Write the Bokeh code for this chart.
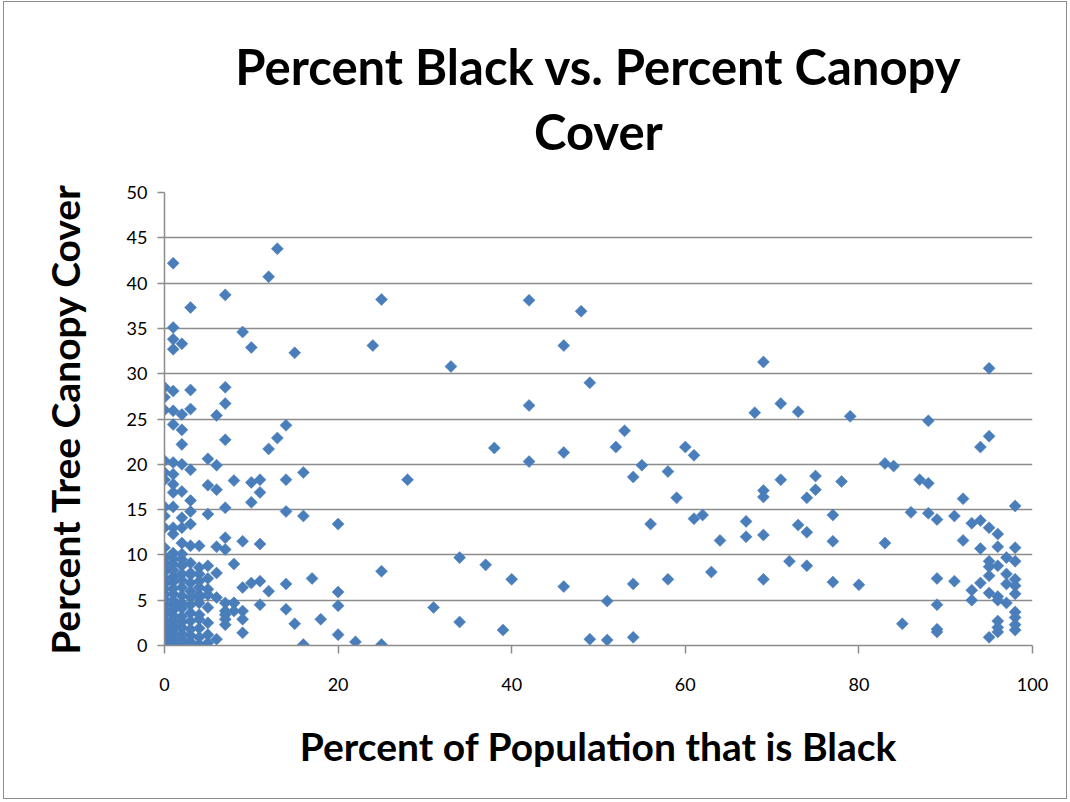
import math
from bokeh.plotting import figure
from bokeh.models import FixedTicker, Range1d, ColumnDataSource
from bokeh.embed import file_html
from bokeh.resources import INLINE

# Census tracts: share of residents who are Black vs. tree canopy share (%)
pct_black = [
    # low-share tracts with higher canopy
    1, 13, 12, 7, 3, 1, 1, 2, 1, 9, 10, 15,
    0, 0, 1, 3, 7, 7, 0, 1, 2, 3, 6,
    1, 2, 2, 7, 14, 13, 12,
    0, 1, 2, 3, 5, 6, 0, 0, 1, 1, 1, 2, 5, 6, 8, 10, 11, 11, 10, 14, 16,
    3, 0, 1, 0, 3, 5, 7, 14, 16, 20, 2,
    0, 1, 1, 2, 3, 2, 3, 4, 0, 6, 7, 7, 9, 11, 1, 2,
    # low-share tracts with low canopy
    5, 8, 6, 4, 3, 9, 10, 11, 12, 14, 17, 20, 20, 11, 14, 15, 18, 20, 16, 22, 25,
    9, 9, 9, 8, 7, 7, 6, 5, 5, 6, 4, 4, 4, 5, 4, 8, 7, 7, 7, 8,
    0, 0, 0, 0, 0, 0, 0, 0, 0, 0, 0, 0, 0, 0, 0, 0, 0, 0, 0,
    1, 1, 1, 1, 1, 1, 1, 1, 1, 1, 1, 1, 1, 1, 1, 1, 1,
    2, 2, 2, 2, 2, 2, 2, 2, 2, 2, 2, 2, 2, 2,
    3, 3, 3, 3, 3, 3, 3, 3, 3, 3, 3,
    4, 4, 4, 4, 4, 4, 4,
    5, 5, 5, 5,
    # mid-range tracts
    25, 42, 48, 24, 33, 46, 49, 42, 53, 52, 38, 46, 42, 55, 54, 58, 59, 28, 56,
    34, 37, 25, 40, 46, 54, 58, 31, 51, 34, 39, 49, 51, 54,
    # majority-Black tracts
    69, 95, 71, 68, 73, 79, 88, 95, 94, 60, 61, 83, 84, 71, 75, 78, 87, 88, 75,
    69, 69, 74, 92, 98, 61, 62, 77, 86, 88, 89, 91, 93, 94, 95, 96, 92, 94, 96,
    98, 83, 77, 67, 67, 69, 64, 73, 74, 72, 74, 63, 69, 77, 80, 89, 91, 93, 94,
    95, 95, 95, 96, 97, 98, 97, 97, 98, 98, 98, 95, 96, 96, 97, 93, 89, 85, 89,
    89, 96, 96, 96, 95, 98, 98, 98, 98,
]

canopy = [
    42.2, 43.8, 40.7, 38.7, 37.3, 35.1, 33.8, 33.3, 32.7, 34.6, 32.9, 32.3,
    28.5, 27.4, 28.1, 28.2, 28.5, 26.7, 26.0, 25.9, 25.5, 26.1, 25.4,
    24.4, 23.8, 22.2, 22.7, 24.3, 22.9, 21.7,
    20.4, 20.2, 20.0, 19.4, 20.6, 19.9, 19.1, 18.3, 18.9, 17.8, 16.9, 17.0, 17.7, 17.2, 18.2, 18.0, 18.3, 16.9, 15.8, 18.3, 19.1,
    16.0, 15.3, 15.3, 14.3, 14.8, 14.5, 15.2, 14.8, 14.3, 13.4, 14.1,
    13.0, 13.0, 12.3, 13.0, 13.4, 11.3, 11.0, 11.0, 10.8, 10.9, 11.9, 10.6, 11.5, 11.2, 10.2, 10.1,
    8.8, 9.0, 8.0, 7.9, 8.0, 6.4, 6.9, 7.1, 6.0, 6.8, 7.4, 5.9, 4.4, 4.5, 4.0, 2.4, 2.9, 1.2, 0.1, 0.4, 0.1,
    1.4, 2.9, 3.8, 4.7, 3.4, 2.3, 5.3, 4.2, 2.5, 0.7, 3.4, 5.3, 6.4, 6.2, 0.1, 3.8, 4.7, 2.9, 3.8, 4.7,
    0.1, 0.5, 0.9, 1.4, 1.9, 2.4, 2.9, 3.5, 4.0, 4.6, 5.1, 5.6, 6.2, 6.8, 7.4, 8.1, 8.6, 9.2, 9.8,
    0.3, 0.8, 1.2, 1.7, 2.2, 2.8, 3.3, 3.9, 4.4, 5.0, 5.7, 6.3, 7.0, 7.6, 8.3, 9.0, 9.6,
    0.2, 0.7, 1.3, 2.0, 2.6, 3.2, 4.1, 4.7, 5.5, 6.4, 7.2, 7.9, 8.8, 9.5,
    0.4, 1.1, 1.8, 2.7, 3.6, 4.5, 5.3, 6.0, 6.9, 7.8, 9.1,
    0.9, 1.9, 2.9, 4.7, 5.6, 7.1, 8.6,
    0.3, 1.2, 5.6, 7.4,
    38.2, 38.1, 36.9, 33.1, 30.8, 33.1, 29.0, 26.5, 23.7, 21.9, 21.8, 21.3, 20.3, 19.9, 18.6, 19.2, 16.3, 18.3, 13.4,
    9.7, 8.9, 8.2, 7.3, 6.5, 6.8, 7.3, 4.2, 4.9, 2.6, 1.7, 0.7, 0.6, 0.9,
    31.3, 30.6, 26.7, 25.7, 25.8, 25.3, 24.8, 23.1, 21.9, 21.9, 21.0, 20.1, 19.8, 18.3, 18.7, 18.1, 18.3, 17.9, 17.2,
    17.1, 16.4, 16.3, 16.2, 15.4, 14.0, 14.4, 14.4, 14.7, 14.6, 13.9, 14.3, 13.5, 13.8, 13.0, 12.3, 11.6, 10.7, 10.9,
    10.8, 11.3, 11.5, 13.7, 12.0, 12.2, 11.6, 13.3, 12.5, 9.3, 8.8, 8.1, 7.3, 7.0, 6.7, 7.4, 7.1, 6.1, 6.9,
    7.7, 8.7, 9.3, 8.8, 9.7, 9.3, 7.9, 6.8, 7.3, 6.6, 5.7, 5.8, 5.4, 5.0, 4.7, 5.0, 4.5, 2.4, 1.8,
    1.5, 2.7, 2.0, 1.5, 0.9, 3.7, 3.1, 2.3, 1.7,
]

x_ticks = [0, 20, 40, 60, 80, 100]
y_ticks = [0, 5, 10, 15, 20, 25, 30, 35, 40, 45, 50]

FONT = "Lato"
GRID = "#8c8c8c"
BLUE = "#4A7EBB"

p = figure(
    width=1064, height=798, output_backend="svg", toolbar_location=None,
    x_range=Range1d(0, 100), y_range=Range1d(0, 50),
    min_border_left=160, min_border_right=36, min_border_top=189, min_border_bottom=155,
    x_axis_label="Percent of Population that is Black",
    y_axis_label="Percent Tree Canopy Cover",
)
# thin grey frame around the whole chart
p.styles = {"margin-left": "3px", "margin-top": "1px", "border": "1px solid #8c8c8c"}
p.outline_line_color = None
p.background_fill_color = "white"
p.border_fill_color = "white"

# two-line chart title, lines centred
p.title.text = "Percent Black vs. Percent Canopy\nCover"
p.title.align = "center"
p.title.text_align = "center"
p.title.text_font = FONT
p.title.text_font_style = "bold"
p.title.text_font_size = "49px"
p.title.text_line_height = 1.12
p.title.text_color = "black"
p.title.vertical_align = "bottom"
p.title.standoff = 65

src = ColumnDataSource(dict(x=pct_black, y=canopy))
p.scatter("x", "y", source=src, marker="square", size=8.5, angle=math.pi / 4,
          fill_color=BLUE, line_color=BLUE, line_width=0.5)

p.xgrid.visible = False
p.ygrid.grid_line_color = GRID
p.ygrid.grid_line_width = 1.5
p.ygrid.ticker = FixedTicker(ticks=y_ticks)

for ax in (p.xaxis[0], p.yaxis[0]):
    ax.axis_line_color = GRID
    ax.axis_line_width = 1.5
    ax.major_tick_line_color = GRID
    ax.major_tick_line_width = 1.5
    ax.major_tick_in = 0
    ax.minor_tick_line_color = None
    ax.major_label_text_font = FONT
    ax.major_label_text_font_size = "18px"
    ax.major_label_text_color = "black"
    ax.axis_label_text_font = FONT
    ax.axis_label_text_font_style = "bold"
    ax.axis_label_text_font_size = "39px"
    ax.axis_label_text_color = "black"

p.xaxis.ticker = FixedTicker(ticks=x_ticks)
p.yaxis.ticker = FixedTicker(ticks=y_ticks)
p.xaxis.major_tick_out = 8
p.yaxis.major_tick_out = 7
p.xaxis.major_label_standoff = 24
p.yaxis.major_label_standoff = 10
p.xaxis.axis_label_standoff = 29
p.yaxis.axis_label_standoff = 36

open("out.html", "w").write(file_html(p, INLINE))
